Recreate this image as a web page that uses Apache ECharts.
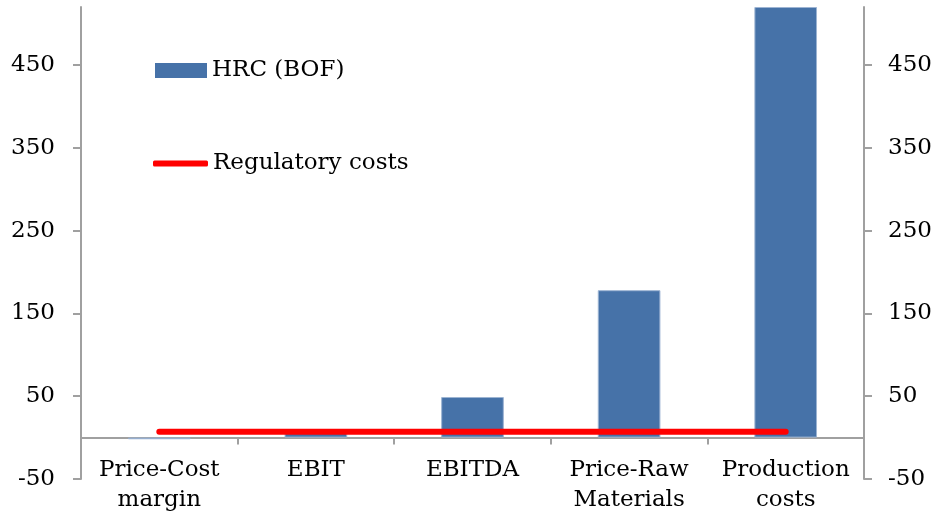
<!DOCTYPE html>
<html>
<head>
<meta charset="utf-8">
<script src="https://cdn.jsdelivr.net/npm/echarts@6/dist/echarts.min.js"></script>
<style>html,body{margin:0;padding:0;background:#fff;}#c{width:938px;height:519px;}</style>
</head>
<body>
<div id="c"></div>
<script>
const categories = ['Price-Cost\nmargin', 'EBIT', 'EBITDA', 'Price-Raw\nMaterials', 'Production\ncosts'];
const hrcValues = [-2, 6, 49, 178, 520];
const regulatoryValues = [7, 7, 7, 7, 7];
const tickValues = [-50, 50, 150, 250, 350, 450];

const FONT = 'DejaVu Serif';
const FS = 23;
const axisGray = '#a0a0a0';
const chart = echarts.init(document.getElementById('c'));

function yAxisCfg(pos, margin) {
  return {
    type: 'value', position: pos, min: -50, max: 520, interval: 100,
    splitLine: { show: false },
    axisLine: { show: true, lineStyle: { color: axisGray, width: 2 } },
    axisTick: { show: true, inside: false, length: 8, lineStyle: { color: axisGray, width: 2 }, customValues: tickValues },
    axisLabel: { customValues: tickValues, margin: margin, color: '#000', fontFamily: FONT, fontSize: FS }
  };
}

chart.setOption({
  animation: false,
  grid: { left: 81, right: 74, top: 7, bottom: 40, containLabel: false, outerBoundsMode: 'none' },
  legend: [
    { data: ['HRC (BOF)'], left: 150, top: 54, icon: 'rect', itemWidth: 52, itemHeight: 15,
      itemStyle: { borderWidth: 0 },
      textStyle: { fontFamily: FONT, fontSize: FS, color: '#000' } },
    { data: ['Regulatory costs'], left: 148, top: 147, icon: 'roundRect', itemWidth: 55, itemHeight: 6,
      itemStyle: { color: '#ff0000', borderWidth: 0 },
      textStyle: { fontFamily: FONT, fontSize: FS, color: '#000' } }
  ],
  xAxis: {
    type: 'category', data: categories, boundaryGap: true,
    axisLine: { onZero: true, lineStyle: { color: axisGray, width: 2 } },
    axisTick: { show: true, length: 7, alignWithLabel: false, lineStyle: { color: axisGray, width: 2 } },
    axisLabel: { interval: 0, margin: -24, color: '#000', fontFamily: FONT, fontSize: FS, lineHeight: 30 }
  },
  yAxis: [yAxisCfg('left', 26), yAxisCfg('right', 24)],
  series: [
    { name: 'HRC (BOF)', type: 'bar', data: hrcValues, barWidth: '40%',
      itemStyle: { color: '#4672a8', borderColor: '#9db4d3', borderWidth: 1 }, z: 2 },
    { name: 'Regulatory costs', type: 'line', data: regulatoryValues, symbol: 'none',
      lineStyle: { color: '#ff0000', width: 6, cap: 'round' }, itemStyle: { color: '#ff0000' }, z: 5 }
  ]
});
</script>
</body>
</html>
